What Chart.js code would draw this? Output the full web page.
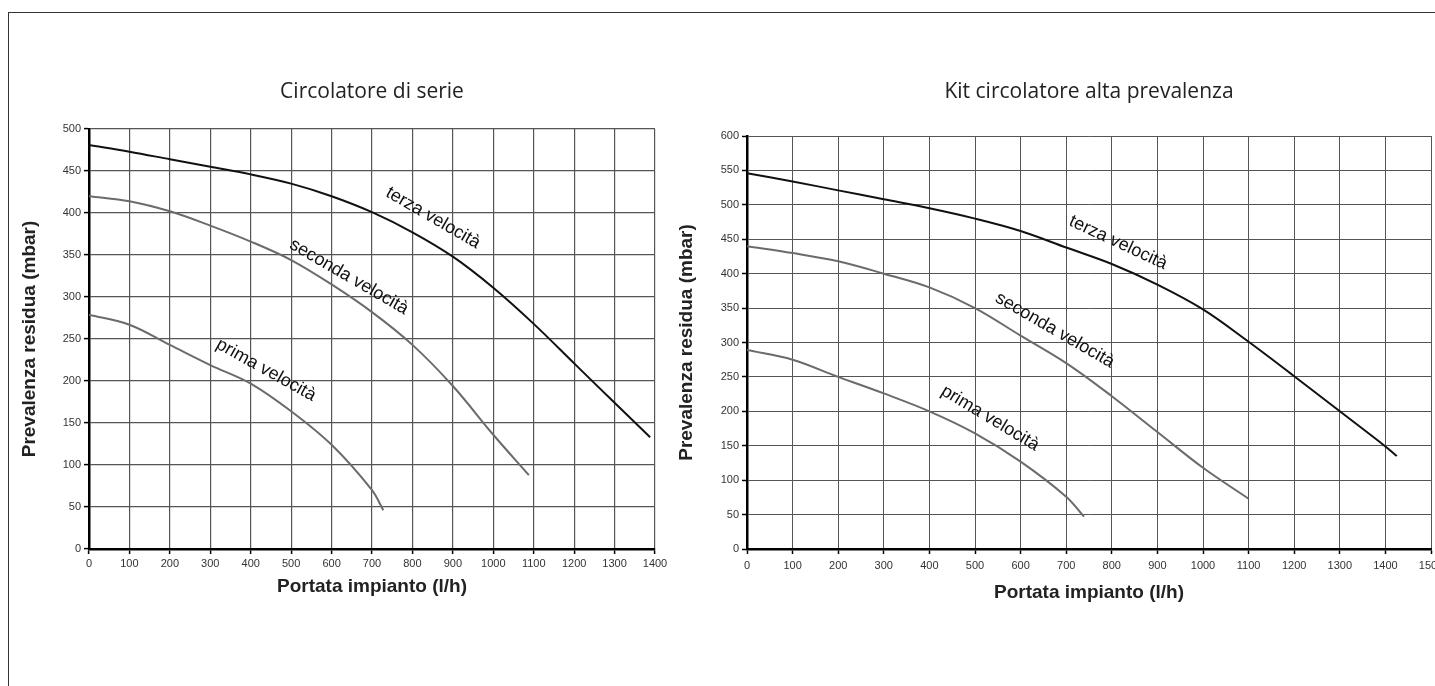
<!DOCTYPE html>
<html>
<head>
<meta charset="utf-8">
<script src="https://cdn.jsdelivr.net/npm/chart.js@4.4.1/dist/chart.umd.min.js"></script>
<style>
  html, body { margin: 0; padding: 0; background: #fff; overflow: hidden; }
  body { width: 1435px; height: 686px; position: relative; }
  #frame { position: absolute; left: 8px; top: 12px; right: -10px; bottom: -10px;
           border-left: 1.5px solid #333; border-top: 1.5px solid #333; }
  #left { position: absolute; left: 0; top: 0; }
  #right { position: absolute; left: 650px; top: 0; }
</style>
</head>
<body>
<div id="frame"></div>
<canvas id="left" width="700" height="686"></canvas>
<canvas id="right" width="800" height="686"></canvas>
<script>
// Circolatore di serie
const serieFlowTerza = [0, 100, 200, 300, 400, 500, 600, 700, 800, 900, 1000, 1100, 1200, 1300, 1388];
const serieTerza = [481, 473, 464, 455, 446, 435, 420, 401, 377, 348, 311, 268, 221, 174, 133];
const serieFlowSeconda = [0, 100, 200, 300, 400, 500, 600, 700, 800, 900, 1000, 1088];
const serieSeconda = [420, 414, 402, 385, 366, 344, 315, 282, 243, 194, 136, 88];
const serieFlowPrima = [0, 100, 200, 300, 400, 500, 600, 700, 728];
const seriePrima = [279, 267, 243, 219, 197, 164, 124, 70, 46];

// Kit circolatore alta prevalenza
const kitFlowTerza = [0, 100, 200, 300, 400, 500, 600, 700, 800, 900, 1000, 1100, 1200, 1300, 1400, 1425];
const kitTerza = [546, 534, 521, 508, 495, 480, 462, 438, 414, 384, 348, 301, 251, 200, 149, 135];
const kitFlowSeconda = [0, 100, 200, 300, 400, 500, 600, 700, 800, 900, 1000, 1100];
const kitSeconda = [440, 430, 418, 400, 380, 350, 310, 270, 222, 170, 118, 73];
const kitFlowPrima = [0, 100, 200, 300, 400, 500, 600, 700, 739];
const kitPrima = [289, 275, 250, 226, 200, 168, 127, 76, 47];

const speedNames = ['terza velocità', 'seconda velocità', 'prima velocità'];

const toPoints = (xs, ys) => xs.map((x, i) => ({ x: x, y: ys[i] }));

const curveLabelPlugin = {
  id: 'curveLabels',
  afterDatasetsDraw(chart, args, opts) {
    const { ctx, scales: { x, y } } = chart;
    ctx.save();
    ctx.font = '18px "Liberation Sans", Arial, sans-serif';
    ctx.fillStyle = '#111';
    ctx.textAlign = 'center';
    ctx.textBaseline = 'middle';
    (opts.items || []).forEach(item => {
      ctx.save();
      ctx.translate(x.getPixelForValue(item.x), y.getPixelForValue(item.y));
      ctx.rotate(item.angle * Math.PI / 180);
      ctx.fillText(item.text, 0, 0);
      ctx.restore();
    });
    ctx.restore();
  }
};

const curve = (points, color) => ({
  data: points,
  borderColor: color,
  borderWidth: 2,
  pointRadius: 0,
  fill: false,
  tension: 0.35
});

const tickFont = { family: '"Liberation Sans", Arial, sans-serif', size: 11 };
const axisTitleFont = { family: '"Liberation Sans", Arial, sans-serif', size: 19, weight: 'bold' };

const makeChart = (id, o) => new Chart(document.getElementById(id), {
  type: 'line',
  data: {
    datasets: [
      curve(o.terza, '#111'),
      curve(o.seconda, '#6b6b6b'),
      curve(o.prima, '#6b6b6b')
    ]
  },
  options: {
    responsive: false,
    animation: false,
    devicePixelRatio: 1,
    layout: { padding: { left: 0, right: o.padRight, top: 0, bottom: 77 } },
    plugins: {
      legend: { display: false },
      tooltip: { enabled: false },
      title: {
        display: true,
        text: o.title,
        fullSize: false,
        color: '#222',
        font: { family: '"Open Sans", sans-serif', size: 21, weight: 'normal' },
        padding: { top: 79.4, bottom: o.titleBottom }
      },
      curveLabels: { items: o.labels }
    },
    scales: {
      x: {
        type: 'linear',
        min: 0,
        max: o.xMax,
        afterFit: s => { s.height = 60; s.paddingLeft = 0; s.paddingRight = 0; },
        ticks: {
          stepSize: 100, autoSkip: false, maxRotation: 0,
          color: '#333', padding: o.xTickPad, font: tickFont,
          callback: v => String(v)
        },
        grid: { color: '#555', lineWidth: o.gridWidth, tickColor: '#000', tickLength: 5, tickWidth: 1.5 },
        border: { display: true, color: '#000', width: 2.5 },
        title: {
          display: true,
          text: 'Portata impianto (l/h)',
          color: '#222',
          font: axisTitleFont,
          padding: { top: 0, bottom: o.xTitlePad }
        }
      },
      y: {
        min: 0,
        max: o.yMax,
        afterFit: s => { s.width = o.yWidth; s.paddingTop = 0; s.paddingBottom = 0; },
        ticks: {
          stepSize: 50, autoSkip: false,
          color: '#333', padding: 3, font: tickFont,
          callback: v => String(v)
        },
        grid: { color: '#555', lineWidth: o.gridWidth, tickColor: '#000', tickLength: 5, tickWidth: 1.5 },
        border: { display: true, color: '#000', width: 2.5 },
        title: {
          display: true,
          text: 'Prevalenza residua (mbar)',
          color: '#222',
          font: axisTitleFont,
          padding: { top: o.yTitlePad, bottom: 0 }
        }
      }
    }
  },
  plugins: [curveLabelPlugin]
});

makeChart('left', {
  title: 'Circolatore di serie',
  terza: toPoints(serieFlowTerza, serieTerza),
  seconda: toPoints(serieFlowSeconda, serieSeconda),
  prima: toPoints(serieFlowPrima, seriePrima),
  xMax: 1400, yMax: 500,
  padRight: 45, yWidth: 89, titleBottom: 24.4,
  xTickPad: 3, xTitlePad: 10.6, yTitlePad: 18.6, gridWidth: 1.2,
  labels: [
    { text: speedNames[0], x: 851, y: 394, angle: 30 },
    { text: speedNames[1], x: 643, y: 324, angle: 30 },
    { text: speedNames[2], x: 438, y: 213, angle: 29 }
  ]
});

makeChart('right', {
  title: 'Kit circolatore alta prevalenza',
  terza: toPoints(kitFlowTerza, kitTerza),
  seconda: toPoints(kitFlowSeconda, kitSeconda),
  prima: toPoints(kitFlowPrima, kitPrima),
  xMax: 1500, yMax: 600,
  padRight: 19, yWidth: 97, titleBottom: 31.4,
  xTickPad: 5, xTitlePad: 4.6, yTitlePad: 25.6, gridWidth: 1,
  labels: [
    { text: speedNames[0], x: 814, y: 445, angle: 25 },
    { text: speedNames[1], x: 675, y: 318, angle: 30 },
    { text: speedNames[2], x: 533, y: 190, angle: 31 }
  ]
});
</script>
</body>
</html>
